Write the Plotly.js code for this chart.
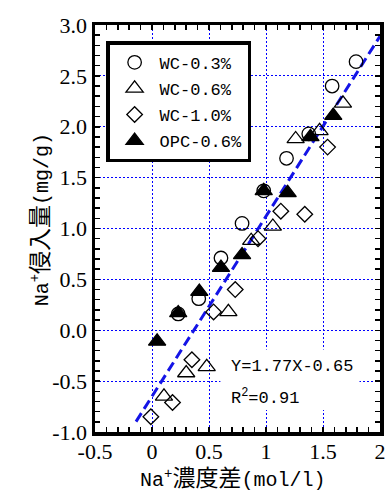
<!DOCTYPE html>
<html><head><meta charset="utf-8">
<script src="https://cdn.plot.ly/plotly-3.0.1.min.js"></script>
<style>html,body{margin:0;padding:0;background:#fff}#chart{width:390px;height:494px}</style>
</head><body><div id="chart"></div>
<script>
const seriesNames = ['WC-0.3%','WC-0.6%','WC-1.0%','OPC-0.6%'];
const wc03X = [0.23,0.41,0.605,0.79,0.98,1.18,1.375,1.58,1.79];
const wc03Y = [0.16,0.31,0.71,1.05,1.37,1.69,1.93,2.40,2.64];
const wc06X = [0.105,0.30,0.48,0.67,0.87,1.06,1.26,1.47,1.675];
const wc06Y = [-0.65,-0.42,-0.36,0.18,0.88,1.02,1.88,1.96,2.23];
const wc10X = [-0.01,0.18,0.35,0.54,0.73,0.93,1.13,1.34,1.54];
const wc10Y = [-0.85,-0.71,-0.29,0.18,0.40,0.90,1.17,1.14,1.80];
const opcX = [0.045,0.23,0.415,0.605,0.79,0.98,1.19,1.39,1.59];
const opcY = [-0.11,0.17,0.38,0.615,0.74,1.37,1.35,1.90,2.11];
const fitSlope = 1.77, fitIntercept = -0.65, fitR2 = 0.91;
const fitX = [-0.14, 2.0];
const fitY = fitX.map(x => fitSlope * x + fitIntercept);
const xTickVals = [-0.5, 0, 0.5, 1, 1.5, 2];
const xTickText = ['-0.5', '0', '0.5', '1', '1.5', '2'];
const yTickVals = [-1, -0.5, 0, 0.5, 1, 1.5, 2, 2.5, 3];
const yTickText = ['-1.0', '-0.5', '0.0', '0.5', '1.0', '1.5', '2.0', '2.5', '3.0'];
const xTitle = 'Na<sup>+</sup>' + '<span style="font-family:Noto Sans CJK JP;font-size:23px">濃度差</span>' + '(mol/l)';
const yTitle = 'Na<sup>+</sup>' + '<span style="font-family:Noto Sans CJK JP;font-size:23px">侵入量</span>' + '(mg/g)';

const monoFont = 'Liberation Mono, Noto Sans CJK JP, monospace';

const mk = (sym, size, fill) => ({symbol: sym, size: size, color: fill, line: {color: '#000', width: 1.3}});
const traces = [
  {x: fitX, y: fitY, mode: 'lines', showlegend: false, hoverinfo: 'skip',
   line: {color: '#1414e6', width: 3, dash: '10px,5px'}},
  {x: wc03X, y: wc03Y, name: seriesNames[0], legendgroup: 'a', mode: 'markers', marker: mk('circle-open', 13.5, '#000')},
  {x: wc06X, y: wc06Y, name: seriesNames[1], legendgroup: 'b', mode: 'markers', marker: mk('triangle-up-open', 15, '#000')},
  {x: wc10X, y: wc10Y, name: seriesNames[2], legendgroup: 'c', mode: 'markers', marker: mk('diamond-open', 12, '#000')},
  {x: opcX, y: opcY, name: seriesNames[3], legendgroup: 'd', mode: 'markers', marker: mk('triangle-up', 15, '#000')}
];

const axisCommon = {
  showline: true, linecolor: '#000', linewidth: 3.5, mirror: 'ticks',
  ticks: 'inside', ticklen: 5, tickwidth: 1.5, tickcolor: '#000',
  showgrid: true, gridcolor: '#0000ff', gridwidth: 1, griddash: '2px,2px',
  zeroline: false, tickmode: 'array',
  tickfont: {family: 'Liberation Serif, serif', size: 22, color: '#000'},
  minor: {dtick: 0.1, ticks: 'inside', ticklen: 5, tickwidth: 1.5, tickcolor: '#000', showgrid: false}
};

const titleFont = {family: monoFont, size: 20, color: '#000'};

const layout = {
  width: 390, height: 494,
  margin: {l: 95, r: 10, t: 25, b: 62},
  paper_bgcolor: '#fff', plot_bgcolor: '#fff',
  showlegend: true,
  legend: {x: 0.039, y: 0.96, xanchor: 'left', yanchor: 'top',
    bgcolor: '#fff', bordercolor: '#000', borderwidth: 3.5,
    font: {family: monoFont, size: 17, color: '#000'},
    itemwidth: 40, traceorder: 'grouped', tracegroupgap: 1},
  xaxis: Object.assign({}, axisCommon, {
    range: [-0.5, 2], tickvals: xTickVals, ticktext: xTickText, ticklabelstandoff: -3
  }),
  yaxis: Object.assign({}, axisCommon, {
    range: [-1, 3], tickvals: yTickVals, ticktext: yTickText, ticklabelstandoff: 0
  }),
  shapes: [{type: 'rect', xref: 'x', yref: 'y', x0: 0.6, x1: 1.82, y0: -0.785, y1: -0.19,
    fillcolor: '#fff', line: {width: 0}, layer: 'between'}],
  annotations: [
    {xref: 'paper', yref: 'paper', x: 0.484, y: -0.108, xanchor: 'center', yanchor: 'middle', showarrow: false,
     text: xTitle, font: titleFont},
    {xref: 'paper', yref: 'paper', x: -0.2, y: 0.52, xanchor: 'center', yanchor: 'middle', showarrow: false,
     textangle: -90, text: yTitle, font: titleFont},
    {xref: 'x', yref: 'y', x: 0.675, y: -0.36, xanchor: 'left', yanchor: 'middle', showarrow: false,
     text: 'Y=' + fitSlope.toFixed(2) + 'X' + '-' + Math.abs(fitIntercept).toFixed(2), font: {family: monoFont, size: 17, color: '#000'}},
    {xref: 'x', yref: 'y', x: 0.675, y: -0.655, xanchor: 'left', yanchor: 'middle', showarrow: false,
     text: 'R<sup>2</sup>=' + fitR2.toFixed(2), font: {family: monoFont, size: 17, color: '#000'}}
  ]
};

Plotly.newPlot('chart', traces, layout, {displayModeBar: false, staticPlot: true});
</script></body></html>
